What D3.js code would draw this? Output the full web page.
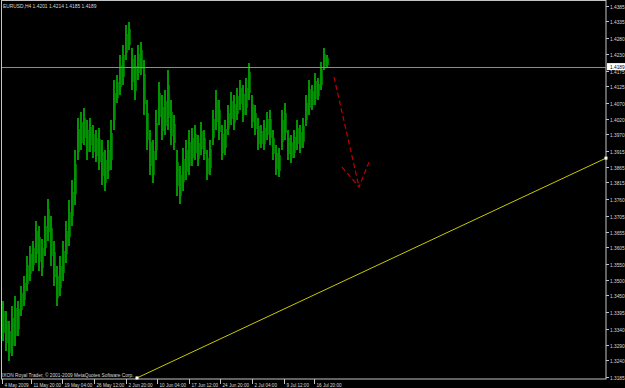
<!DOCTYPE html>
<html>
<head>
<meta charset="utf-8">
<script src="https://cdn.jsdelivr.net/npm/d3@7"></script>
<style>
  html, body { margin: 0; padding: 0; background: #000; overflow: hidden; }
  text { font-family: "Liberation Sans", Arial, sans-serif; }
</style>
</head>
<body>
<div id="chart"></div>
<script>
// EURUSD H4 - each entry below groups 3 H4 bars
const barHigh = [
  1.3432, 1.3399, 1.3367, 1.3415, 1.3448, 1.3432, 1.3480, 1.3513, 1.3577, 1.3610,
  1.3626, 1.3691, 1.3675, 1.3632, 1.3707, 1.3762, 1.3707, 1.3626, 1.3545, 1.3577,
  1.3626, 1.3691, 1.3756, 1.3821, 1.3918, 1.4022, 1.4041, 1.4054, 1.4015, 1.4022,
  1.3999, 1.3983, 1.3989, 1.3950, 1.3918, 1.3950, 1.4015, 1.4145, 1.4161, 1.4226,
  1.4259, 1.4323, 1.4333, 1.4249, 1.4226, 1.4259, 1.4268, 1.4210, 1.4080, 1.3983,
  1.3950, 1.4048, 1.4139, 1.4096, 1.4113, 1.4177, 1.4080, 1.4032, 1.3918, 1.3869,
  1.3925, 1.3950, 1.3983, 1.3989, 1.3999, 1.3967, 1.4009, 1.3983, 1.3918, 1.3950,
  1.4048, 1.4113, 1.4080, 1.3999, 1.4015, 1.4064, 1.4106, 1.4096, 1.4119, 1.4145,
  1.4129, 1.4151, 1.4200, 1.4096, 1.4064, 1.4022, 1.3999, 1.4015, 1.4041, 1.4048,
  1.3983, 1.3934, 1.3925, 1.4048, 1.4070, 1.3983, 1.3967, 1.3983, 1.4015, 1.3999,
  1.4022, 1.4096, 1.4145, 1.4129, 1.4168, 1.4151, 1.4203, 1.4249, 1.4226
];
const barLow = [
  1.3302, 1.3269, 1.3237, 1.3253, 1.3286, 1.3318, 1.3383, 1.3415, 1.3464, 1.3496,
  1.3529, 1.3555, 1.3529, 1.3513, 1.3577, 1.3626, 1.3545, 1.3480, 1.3415, 1.3448,
  1.3496, 1.3555, 1.3610, 1.3675, 1.3740, 1.3886, 1.3918, 1.3934, 1.3886, 1.3912,
  1.3892, 1.3879, 1.3853, 1.3805, 1.3788, 1.3827, 1.3853, 1.3983, 1.4070, 1.4096,
  1.4129, 1.4210, 1.4242, 1.4113, 1.4080, 1.4145, 1.4161, 1.4032, 1.3918, 1.3837,
  1.3811, 1.3886, 1.3999, 1.3950, 1.3967, 1.3983, 1.3934, 1.3918, 1.3772, 1.3746,
  1.3788, 1.3821, 1.3837, 1.3869, 1.3886, 1.3869, 1.3902, 1.3886, 1.3821, 1.3837,
  1.3934, 1.3983, 1.3950, 1.3886, 1.3902, 1.3967, 1.3999, 1.3983, 1.4015, 1.4048,
  1.4009, 1.4032, 1.4080, 1.3989, 1.3967, 1.3918, 1.3925, 1.3918, 1.3950, 1.3934,
  1.3886, 1.3837, 1.3831, 1.3918, 1.3950, 1.3886, 1.3876, 1.3892, 1.3918, 1.3908,
  1.3925, 1.3996, 1.4032, 1.4048, 1.4064, 1.4080, 1.4113, 1.4177, 1.4185
];
const barsPerEntry = 3;

const priceTicks = ["1.4385","1.4335","1.4280","1.4230","1.4175","1.4125","1.4070","1.4020",
  "1.3970","1.3915","1.3865","1.3815","1.3760","1.3705","1.3655","1.3605",
  "1.3550","1.3500","1.3450","1.3395","1.3340","1.3290","1.3240","1.3185"];

const timeLabels = ["4 May 2009","11 May 20:00","19 May 04:00","26 May 12:00","2 Jun 20:00",
  "10 Jun 04:00","17 Jun 12:00","24 Jun 20:00","2 Jul 04:00","9 Jul 12:00","16 Jul 20:00"];
const timeTickBars = [0, 29, 60, 92, 124, 155, 187, 218, 250, 282, 312];

const symbolInfo = "EURUSD,H4 1.4201 1.4214 1.4185 1.4189";
const bidPrice = 1.4189;
const copyright = "IXON Royal Trader, \u00A9 2001-2009 MetaQuotes Software Corp.";

// trendline (bar index, price)
const trendBars = [135, 604];
const trendPrices = [1.3182, 1.3893];

// hand drawn arrow (bar index, price)
const arrowShaftBars = [332, 357];
const arrowShaftPrices = [1.4155, 1.3800];
const arrowHeadBars = [340, 357, 367];
const arrowHeadPrices = [1.3864, 1.3800, 1.3880];

const width = 625, height = 388;
const plotRight = 606, plotBottom = 379;

const svg = d3.select("#chart").append("svg")
  .attr("width", width)
  .attr("height", height)
  .style("display", "block")
  .style("background", "#000");

const x = d3.scaleLinear().domain([0, 604]).range([2, plotRight]);
const y = d3.scaleLinear().domain([1.3185, 1.4385]).range([377, 6]);

// frame
svg.append("rect")
  .attr("x", 1.5).attr("y", 0.5)
  .attr("width", plotRight - 1.5).attr("height", plotBottom - 0.5)
  .attr("fill", "none")
  .attr("stroke", "#c4c4c4")
  .attr("stroke-width", 1);

// bars: drawn as thin columns so the black shows between them
const barW = x(barsPerEntry) - x(0);
const bars = svg.append("g").attr("shape-rendering", "crispEdges");
bars.selectAll("rect")
  .data(barHigh)
  .enter().append("rect")
  .attr("x", (d, i) => x(i * barsPerEntry))
  .attr("width", barW - 1)
  .attr("y", d => y(d))
  .attr("height", (d, i) => y(barLow[i]) - y(d))
  .attr("fill", "#009400");
bars.selectAll("line")
  .data(barHigh)
  .enter().append("line")
  .attr("x1", (d, i) => x(i * barsPerEntry) + barW - 0.5)
  .attr("x2", (d, i) => x(i * barsPerEntry) + barW - 0.5)
  .attr("y1", (d, i) => y(d) + (y(barLow[i]) - y(d)) * 0.25)
  .attr("y2", (d, i) => y(barLow[i]) - (y(barLow[i]) - y(d)) * 0.2)
  .attr("stroke", "#006c00");

// bid line
svg.append("line")
  .attr("x1", 2).attr("x2", plotRight)
  .attr("y1", Math.round(y(bidPrice)) + 0.5).attr("y2", Math.round(y(bidPrice)) + 0.5)
  .attr("stroke", "#8c8c8c");

// trendline
svg.append("line")
  .attr("x1", x(trendBars[0])).attr("y1", y(trendPrices[0]))
  .attr("x2", x(trendBars[1])).attr("y2", y(trendPrices[1]))
  .attr("stroke", "#c8c800")
  .attr("stroke-width", 1);
trendBars.forEach((b, i) => {
  svg.append("rect")
    .attr("x", x(b) - 1.5).attr("y", y(trendPrices[i]) - 1.5)
    .attr("width", 3).attr("height", 3)
    .attr("fill", "#fff");
});

// red arrow
const arrowLine = d3.line();
svg.append("path")
  .attr("d", arrowLine(arrowShaftBars.map((b, i) => [x(b), y(arrowShaftPrices[i])])))
  .attr("fill", "none")
  .attr("stroke", "#c00000")
  .attr("stroke-width", 1.2)
  .attr("stroke-dasharray", "5,3");
svg.append("path")
  .attr("d", arrowLine(arrowHeadBars.map((b, i) => [x(b), y(arrowHeadPrices[i])])))
  .attr("fill", "none")
  .attr("stroke", "#c00000")
  .attr("stroke-width", 1.2)
  .attr("stroke-dasharray", "5,3");

// price axis
const yAxis = svg.append("g");
priceTicks.forEach(t => {
  const yy = Math.round(y(+t)) + 0.5;
  yAxis.append("line")
    .attr("x1", plotRight).attr("x2", plotRight + 3)
    .attr("y1", yy).attr("y2", yy)
    .attr("stroke", "#c4c4c4");
  yAxis.append("text")
    .attr("x", plotRight + 4)
    .attr("y", yy + 2)
    .attr("fill", "#d8d8d8")
    .style("font-size", "4.8px")
    .text(t);
});

// bid price box
svg.append("rect")
  .attr("x", plotRight + 1).attr("y", y(bidPrice) - 3.5)
  .attr("width", 18).attr("height", 7)
  .attr("fill", "#fff");
svg.append("text")
  .attr("x", plotRight + 4)
  .attr("y", y(bidPrice) + 2)
  .attr("fill", "#000")
  .style("font-size", "4.8px")
  .text(bidPrice.toFixed(4));

// time axis
const xAxis = svg.append("g");
timeTickBars.forEach((b, i) => {
  const xx = Math.round(x(b)) + 0.5;
  xAxis.append("line")
    .attr("x1", xx).attr("x2", xx)
    .attr("y1", plotBottom).attr("y2", plotBottom + 5)
    .attr("stroke", "#c4c4c4");
  xAxis.append("text")
    .attr("x", xx + 2)
    .attr("y", 386.5)
    .attr("fill", "#d8d8d8")
    .style("font-size", "4.6px")
    .text(timeLabels[i]);
});

// header and copyright
svg.append("text")
  .attr("x", 3).attr("y", 7.5)
  .attr("fill", "#d8d8d8")
  .style("font-size", "4.9px")
  .text(symbolInfo);

svg.append("text")
  .attr("x", 2).attr("y", 377)
  .attr("fill", "#d8d8d8")
  .style("font-size", "4.8px")
  .text(copyright);
</script>
</body>
</html>
